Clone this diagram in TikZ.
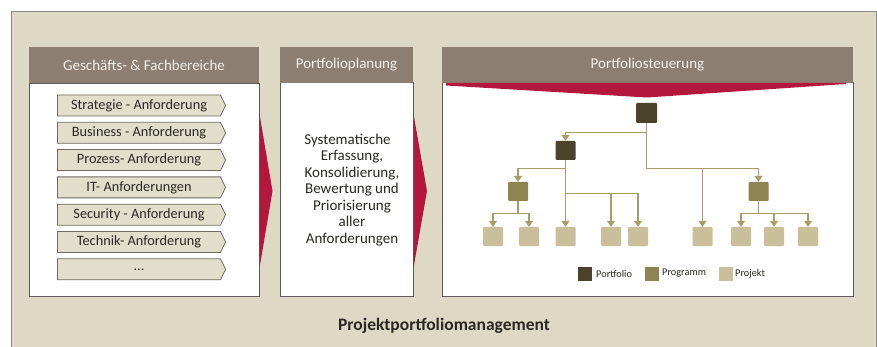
\documentclass[tikz,border=0pt]{standalone}
\usepackage{fontspec}
\setmainfont{Carlito}
\usetikzlibrary{shapes.symbols,arrows.meta,calc}
\definecolor{bgc}{HTML}{DDD9C5}
\definecolor{framec}{HTML}{8C8B86}
\definecolor{hdrc}{HTML}{8C7F71}
\definecolor{hdrtxt}{HTML}{F4F0EA}
\definecolor{bodyline}{HTML}{5C5A52}
\definecolor{redc}{HTML}{B3173E}
\definecolor{chevfill}{HTML}{E2DECC}
\definecolor{chevline}{HTML}{6E6A5E}
\definecolor{pfc}{HTML}{4B4329}
\definecolor{pgc}{HTML}{8E8352}
\definecolor{pjc}{HTML}{C9BF9B}
\definecolor{connc}{HTML}{A89C69}
\definecolor{txtc}{HTML}{2A2822}
\tikzset{
  hdr/.style={fill=hdrc, text=hdrtxt, inner sep=0pt, minimum height=36pt, font=\fontsize{15}{17}\selectfont},
  panelbody/.style={fill=white, draw=bodyline, line width=0.9pt, inner sep=0pt},
  chev/.style={signal, signal to=east, signal pointer angle=128, fill=chevfill, draw=chevline, line width=0.8pt,
    minimum width=168pt, minimum height=21pt, inner sep=0pt, text=txtc, font=\fontsize{14.3}{16}\selectfont},
  box/.style={minimum width=20pt, minimum height=19pt, inner sep=0pt, rounded corners=1pt},
  pf/.style={box, fill=pfc},
  pg/.style={box, fill=pgc},
  pj/.style={box, fill=pjc},
  legbox/.style={minimum size=14pt, inner sep=0pt},
  legtxt/.style={anchor=west, inner sep=0pt, text=txtc, font=\fontsize{10.3}{12}\selectfont},
  conn/.style={draw=connc, line width=1.3pt},
  arr/.style={conn, -{Triangle[width=8pt,length=6pt]}, color=connc},
  redarrow/.style={fill=redc, draw=none}
}
\begin{document}
\begin{tikzpicture}[x=1pt,y=-1pt]
\useasboundingbox (0,0) rectangle (877,347);
\fill[white] (0,0) rectangle (877,347);
\filldraw[fill=bgc, draw=framec, line width=1pt] (11,12) rectangle (876,360);

% panel bodies
\node[panelbody, minimum width=230pt, minimum height=213pt] (b1) at (144,189.5) {};
\node[panelbody, minimum width=133pt, minimum height=214pt] (b2) at (346.5,189.5) {};
\node[panelbody, minimum width=411pt, minimum height=214pt] (b3) at (647.5,189.5) {};

% headers
\node[hdr, minimum width=230pt] (h1) at (144,65) {Geschäfts- \& Fachbereiche};
\node[hdr, minimum width=133pt] (h2) at (346.5,65) {Portfolioplanung};
\node[hdr, minimum width=411pt] (h3) at (647.5,65) {Portfoliosteuerung};

% red arrows
\fill[redarrow] (259.5,114) -- (272.5,191) -- (259.5,268) -- cycle;
\fill[redarrow] (413.5,114) -- (427,191) -- (413.5,268) -- cycle;
\fill[redarrow] (446,83) -- (846,83) -- (846,84) -- (647,97.5) -- (446,85.5) -- cycle;

% chevrons
\node[chev] (c1) at (139,105.5) {Strategie - Anforderung};
\node[chev] (c2) at (139,132.8) {Business - Anforderung};
\node[chev] (c3) at (139,160.1) {Prozess- Anforderung};
\node[chev] (c4) at (139,187.4) {IT- Anforderungen};
\node[chev] (c5) at (139,214.7) {Security - Anforderung};
\node[chev] (c6) at (139,242.0) {Technik- Anforderung};
\node[chev] (c7) at (139,269.3) {...};

% middle text
\node[align=center, text=txtc, inner sep=0pt, font=\fontsize{15}{16.5}\selectfont] (mt) at (352,190)
  {Systematische\hspace*{9pt}\\Erfassung,\\Konsolidierung,\\Bewertung und\\Priorisierung\\aller\\Anforderungen};

% tree
\node[pf, minimum width=21pt, minimum height=20pt] (R) at (646.5,113) {};
\node[pf] (P2) at (565.5,150.5) {};
\node[pg] (PL) at (518,191.5) {};
\node[pg] (PR) at (758.5,191.5) {};
\node[pj] (J1) at (493,236.5) {};
\node[pj] (J2) at (529,236.5) {};
\node[pj] (J3) at (565.5,236.5) {};
\node[pj] (J4) at (611,236.5) {};
\node[pj] (J5) at (638,236.5) {};
\node[pj] (J6) at (702.5,236.5) {};
\node[pj] (J7) at (741,236.5) {};
\node[pj] (J8) at (774,236.5) {};
\node[pj] (J9) at (808,236.5) {};

\draw[arr] (R.south) -- ++(0,45) -| (PR.north);
\draw[arr] ($(R.south)+(0,45)$) -| (J6.north);
\draw[arr] ($(R.south)+(0,9)$) -| (P2.north);
\draw[arr] (P2.south) -- (J3.north);
\draw[arr] ($(P2.south)+(0,8)$) -| (PL.north);
\draw[arr] ($(P2.south)+(0,33)$) -| (J4.north);
\draw[arr] ($(P2.south)+(0,33)$) -| (J5.north);
\draw[arr] (PL.south) -- ++(0,12) -| (J1.north);
\draw[arr] ($(PL.south)+(0,12)$) -| (J2.north);
\draw[arr] (PR.south) -- ++(0,12) -| (J7.north);
\draw[arr] ($(PR.south)+(0,12)$) -| (J8.north);
\draw[arr] ($(PR.south)+(0,12)$) -| (J9.north);

% legend
\node[legbox, fill=pfc] (L1) at (585,274) {};
\node[legtxt] (T1) at (596,274) {Portfolio};
\node[legbox, fill=pgc] (L2) at (651.5,274) {};
\node[legtxt] (T2) at (662,273.5) {Programm};
\node[legbox, fill=pjc] (L3) at (725.5,274) {};
\node[legtxt] (T3) at (735,273.5) {Projekt};

% title
\node[text=txtc, inner sep=0pt, font=\bfseries\fontsize{17.5}{20}\selectfont] (title) at (444,326) {Projektportfoliomanagement};
\end{tikzpicture}
\end{document}
